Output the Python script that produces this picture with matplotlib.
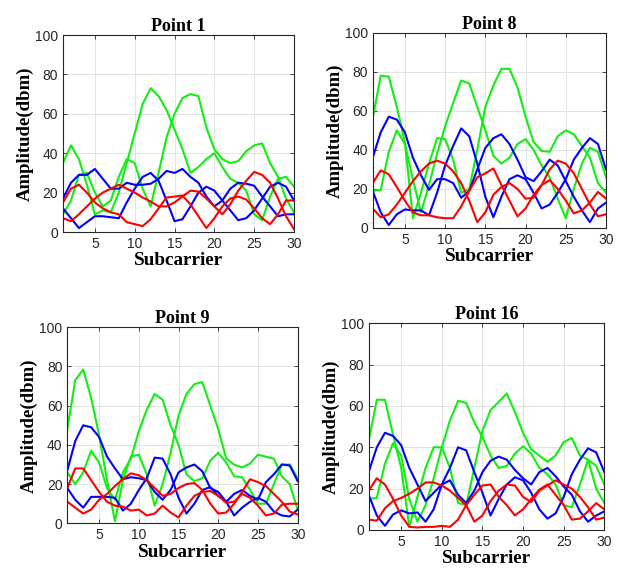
import numpy as np
import matplotlib
matplotlib.use('Agg')
import matplotlib.pyplot as plt

subcarrier = np.arange(1, 31)

# Point 1
p1_green_a = [35, 44, 37, 24, 9, 11, 10, 20, 35, 50, 65, 73, 69, 62, 52, 42, 30, 33, 37, 40, 33, 27, 25, 21, 9, 6, 18, 27, 28, 23]
p1_green_b = [9, 16, 29, 30, 20, 13, 16, 28, 37, 35, 22, 13, 30, 48, 60, 68, 70, 69, 53, 42, 37, 35, 36, 41, 44, 45, 35, 28, 17, 10]
p1_blue_a = [12, 7, 2, 5, 8, 8, 7.5, 7, 15, 22, 28, 30, 26, 16, 5.5, 6.5, 13, 20, 23, 21, 16, 11, 6, 7, 11, 17, 23, 25, 23, 16]
p1_blue_b = [17, 25, 29, 29, 32, 27, 22, 22, 25, 24, 24, 24.5, 27, 31, 30, 32, 28, 25, 18, 13, 16, 22, 25, 24.5, 23.5, 18, 13, 8, 9, 9]
p1_red_a = [15, 22, 24, 20, 15, 12, 10, 9, 5, 4, 3, 6.5, 12, 17.5, 18, 18.5, 14, 8, 2, 7, 13, 17, 18, 16.5, 12, 7, 4, 9, 16, 16]
p1_red_b = [7, 5.5, 9, 13, 17, 20, 22, 24, 22, 20, 17.5, 15.5, 13, 13, 15, 18, 21, 20.5, 17, 13, 9, 14, 21, 26, 30.5, 29, 25, 17, 8, 1.5]

# Point 8
p8_green_a = [56, 78, 77.5, 62, 44, 5, 18, 33, 46, 45.5, 35, 18, 20, 40, 62, 73, 81.5, 81.5, 72, 57, 44, 39.5, 39, 47, 50, 48, 42, 36, 23, 18]
p8_green_b = [19, 19.5, 39, 50, 43, 25, 8, 22, 38, 52, 64, 75.5, 74, 62, 50, 37, 33, 36, 43, 45.5, 40, 32, 26, 15, 5, 20, 33, 41, 39, 26]
p8_blue_a = [36, 49, 57, 55.5, 49, 36, 27, 19.5, 25, 25, 23, 15.5, 19, 30, 41, 46, 48, 43, 35, 26, 24, 29, 35, 32, 24, 16, 9, 3, 10, 13]
p8_blue_b = [19, 8, 1.5, 7, 9.5, 9, 9, 6.5, 18, 32, 42, 51, 47, 33, 16, 5.5, 16, 25, 27, 25, 18, 10, 12, 18, 25, 35, 41, 46, 43, 30]
p8_red_a = [23, 29.5, 27.5, 21, 14, 8, 6.5, 6.5, 5.5, 5, 5, 11, 19, 26, 28, 30.5, 22, 14, 6, 10, 17, 22, 24.5, 20, 14, 7.5, 9, 13, 18.5, 15]
p8_red_b = [10, 5.5, 7, 12, 18, 24, 29, 33, 34.5, 33, 29, 23, 14, 3, 8, 17, 21, 23, 20, 15, 15.5, 22, 30, 34.5, 33, 28, 20, 12, 6, 7]

# Point 9
p9_green_a = [48, 73, 78.5, 64, 45, 22, 1, 22, 34, 35, 25, 9, 20, 36, 55, 66, 71, 72, 60, 48, 33, 30, 28.5, 30.5, 35, 34, 33, 24, 20, 7]
p9_green_b = [26, 20, 26, 37, 31, 18, 12, 26, 33, 47, 58, 66, 63, 50, 40, 25, 21.5, 23, 32, 36, 31, 24, 23.5, 17, 10, 10, 20, 30, 30, 23]
p9_blue_a = [27, 42, 50, 49, 44, 34, 28, 22.5, 23.5, 23, 22, 16, 12, 17, 26, 28.5, 30, 26.5, 18, 16, 11, 15, 17, 14, 12, 21, 25, 30, 29.5, 21.5]
p9_blue_b = [18, 12, 8, 13.5, 13.5, 13.5, 13, 6.5, 10, 17, 23, 33.5, 33, 25, 13, 5, 10, 17, 18.5, 14, 11, 4, 8, 11, 13, 11, 6, 4, 3.5, 7]
p9_red_a = [18, 28, 28, 22, 16, 11, 9, 8.5, 6.5, 7, 4, 5, 9, 5.5, 3, 9, 14, 16, 16.5, 14, 10.5, 11, 15, 13, 9, 4, 5, 9.5, 10, 10]
p9_red_b = [11, 8, 5, 7, 12, 15, 19, 22.5, 25.5, 24.5, 22, 18, 14, 15, 18, 20, 20.5, 17, 10, 5, 5.5, 10, 16, 22.5, 21, 19, 15, 11, 6, 4.5]

# Point 16
p16_green_a = [43, 63, 63, 46, 30, 1.5, 16, 30, 40, 40, 30, 13, 12, 30, 48, 58, 62, 66, 57, 47, 39, 36, 33, 36, 42.5, 44.5, 36, 34, 20, 13]
p16_green_b = [15, 15.5, 32, 42, 36, 15, 4, 12, 25, 40, 53, 62.5, 61.5, 52, 45, 36, 30, 31, 37, 40.5, 37, 30, 27, 22, 12, 11, 22, 34, 31, 22]
p16_blue_a = [28, 40, 47, 45.5, 41, 30, 22, 14, 18, 22, 30, 40, 38.5, 28, 18, 7, 15, 22, 25.5, 24, 18, 10, 5.5, 8, 16, 27, 34, 39.5, 37.5, 28]
p16_blue_b = [17, 7, 2, 7.5, 9.5, 8, 8.5, 4, 10, 22, 24, 17, 13, 19, 28, 33.5, 35.5, 34, 29, 25, 22, 28, 30, 26, 21, 17, 9, 4, 7, 9]
p16_red_a = [19, 25, 22, 15, 7, 1.5, 1.2, 1.5, 1.5, 2, 1.5, 5, 12, 4, 7, 14, 19, 22, 21.5, 16, 13.5, 19, 21.5, 24, 22, 20, 16, 11, 5, 6]
p16_red_b = [5, 4.5, 10.5, 14, 15.5, 17.5, 20, 23, 23, 21.5, 19, 15.5, 12, 17, 21.5, 22, 16, 12, 7, 10, 15, 19.5, 22, 17, 12, 5, 5.5, 9, 13, 10]

titles = ['Point 1', 'Point 8', 'Point 9', 'Point 16']
panels = [
    [p1_green_a, p1_green_b, p1_blue_a, p1_blue_b, p1_red_a, p1_red_b],
    [p8_green_a, p8_green_b, p8_blue_a, p8_blue_b, p8_red_a, p8_red_b],
    [p9_green_a, p9_green_b, p9_blue_a, p9_blue_b, p9_red_a, p9_red_b],
    [p16_green_a, p16_green_b, p16_blue_a, p16_blue_b, p16_red_a, p16_red_b],
]
colors = ['#11ee11', '#11ee11', '#0000ff', '#0000ff', '#ff0000', '#ff0000']

positions = [
    [0.1008, 0.5958, 0.3696, 0.3432],
    [0.5963, 0.6028, 0.3733, 0.3402],
    [0.1077, 0.0883, 0.3686, 0.3415],
    [0.5899, 0.0767, 0.3770, 0.3601],
]

serif = ['Liberation Serif', 'DejaVu Serif']
sans = ['Liberation Sans', 'DejaVu Sans']

fig = plt.figure(figsize=(6.25, 5.74), dpi=100)

for title, series, pos in zip(titles, panels, positions):
    ax = fig.add_axes(pos)
    for vals, c in zip(series, colors):
        ax.plot(subcarrier, vals, color=c, linewidth=1.5)
    ax.set_xlim(1, 30)
    ax.set_ylim(0, 100)
    ax.set_xticks([5, 10, 15, 20, 25, 30])
    ax.set_yticks([0, 20, 40, 60, 80, 100])
    ax.grid(True, color='#e3e3e3', linewidth=0.7)
    ax.set_axisbelow(True)
    ax.tick_params(direction='in', length=3, width=0.6, colors='#262626',
                   labelsize=10, top=True, right=True, labeltop=False, labelright=False)
    for lab in ax.get_xticklabels() + ax.get_yticklabels():
        lab.set_family(sans)
    for sp in ax.spines.values():
        sp.set_color('#262626')
        sp.set_linewidth(0.8)
    ax.set_title(title, family=serif, fontweight='bold', fontsize=13, pad=3)
    ax.set_xlabel('Subcarrier', family=serif, fontweight='bold', fontsize=13.8, labelpad=1)
    ax.set_ylabel('Amplitude(dbm)', family=serif, fontweight='bold', fontsize=13.5, labelpad=1)

fig.savefig('out.png', dpi=100)
